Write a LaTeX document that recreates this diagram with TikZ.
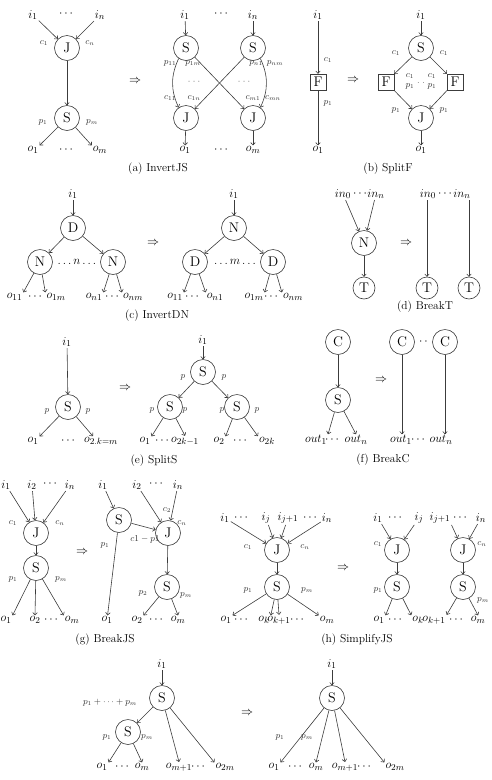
\documentclass[tikz,border=0pt]{standalone}
\usepackage{amsmath,amssymb}
\usepackage{tikz}
\usetikzlibrary{arrows.meta,positioning,calc}
\usepackage{xcolor}
\definecolor{linegray}{RGB}{60,60,60}

\begin{document}
\begin{tikzpicture}[
    x=1pt, y=1pt,
    >={To[length=3pt,width=5pt]},
    op/.style={circle, draw=linegray, line width=0.6pt, minimum size=25pt, inner sep=0pt, font=\fontsize{14}{16}\selectfont},
    fn/.style={rectangle, draw=linegray, line width=0.6pt, minimum size=16pt, inner sep=0pt, font=\fontsize{14}{16}\selectfont},
    lab/.style={font=\fontsize{13}{15}\selectfont, inner sep=1pt},
    sm/.style={font=\fontsize{9}{10}\selectfont, inner sep=0pt, text=black!80},
    faint/.style={font=\fontsize{11}{12}\selectfont, inner sep=0pt, text=black!45},
    capt/.style={font=\fontsize{11.5}{14}\selectfont},
    imp/.style={font=\fontsize{13}{15}\selectfont},
    arr/.style={->, draw=linegray, line width=0.6pt}
]
\useasboundingbox (0,0) rectangle (492,-780);

\node[lab] (ai1) at (33,-15) {$i_1$};
\node[lab] (aid) at (67,-14) {$\cdots$};
\node[lab] (ain) at (100,-15) {$i_n$};
\node[op] (aJ) at (67,-48) {J};
\node[op] (aS) at (67,-118) {S};
\node[lab] (ao1) at (33,-150) {$o_1$};
\node[lab] (aod) at (67,-150) {$\cdots$};
\node[lab] (aom) at (100,-150) {$o_m$};
\node[sm] at (44,-43) {$c_1$};
\node[sm] at (90,-43) {$c_n$};
\node[sm] at (43,-122) {$p_1$};
\node[sm] at (92,-122) {$p_m$};
\draw[arr] (ai1) -- (aJ);
\draw[arr] (ain) -- (aJ);
\draw[arr] (aJ) -- (aS);
\draw[arr] (aS) -- (ao1.north east);
\draw[arr] (aS) -- (aom.north west);
\node[imp] at (135,-81) {$\Rightarrow$};

\node[lab] (ari1) at (185,-15) {$i_1$};
\node[lab] (arid) at (222,-14) {$\cdots$};
\node[lab] (arin) at (253,-15) {$i_n$};
\node[op] (arS1) at (186,-48) {S};
\node[op] (arS2) at (253,-48) {S};
\node[op] (arJ1) at (186,-118) {J};
\node[op] (arJ2) at (253,-118) {J};
\node[lab] (aro1) at (185,-150) {$o_1$};
\node[lab] (arod) at (222,-150) {$\cdots$};
\node[lab] (arom) at (253,-150) {$o_m$};
\draw[arr] (ari1) -- (arS1);
\draw[arr] (arin) -- (arS2);
\draw[arr] (arS1.235) to[out=245, in=115] (arJ1.125);
\draw[arr] (arS2.305) to[out=295, in=65] (arJ2.55);
\draw[arr] (arS1) -- (arJ2);
\draw[arr] (arS2) -- (arJ1);
\draw[arr] (arJ1) -- (aro1);
\draw[arr] (arJ2) -- (arom);
\node[sm] at (170,-63) {$p_{11}$};
\node[sm] at (193,-63) {$p_{1m}$};
\node[sm] at (256,-63) {$p_{n1}$};
\node[sm] at (275,-63) {$p_{nm}$};
\node[faint] at (195,-82) {$\cdots$};
\node[faint] at (245,-82) {$\cdots$};
\node[sm] at (170,-98) {$c_{11}$};
\node[sm] at (194,-98) {$c_{1n}$};
\node[sm] at (253,-98) {$c_{m1}$};
\node[sm] at (273,-98) {$c_{mn}$};
\node[capt] at (158,-169) {(a)~InvertJS};

\node[lab] (bi1) at (318,-15) {$i_1$};
\node[fn] (bF) at (318,-82) {F};
\node[lab] (bo1) at (318,-150) {$o_1$};
\node[sm] at (328,-60) {$c_1$};
\node[sm] at (328,-103) {$p_1$};
\draw[arr] (bi1) -- (bF);
\draw[arr] (bF) -- (bo1);
\node[imp] at (353,-80) {$\Rightarrow$};
\node[lab] (bri1) at (421,-15) {$i_1$};
\node[op] (brS) at (421,-48) {S};
\node[fn] (brF1) at (386,-82) {F};
\node[fn] (brF2) at (455,-82) {F};
\node[op] (brJ) at (421,-118) {J};
\node[lab] (bro1) at (421,-150) {$o_1$};
\draw[arr] (bri1) -- (brS);
\draw[arr] (brS) -- (brF1);
\draw[arr] (brS) -- (brF2);
\draw[arr] (brF1) -- (brJ);
\draw[arr] (brF2) -- (brJ);
\draw[arr] (brJ) -- (bro1);
\node[sm] at (396,-53) {$c_1$};
\node[sm] at (444,-53) {$c_1$};
\node[sm] at (410,-76) {$c_1$};
\node[sm] at (410,-86) {$p_1$};
\node[sm] at (432,-76) {$c_1$};
\node[sm] at (432,-86) {$p_1$};
\node[sm] at (421,-83) {$.\;.$};
\node[sm] at (396,-110) {$p_1$};
\node[sm] at (444,-110) {$p_1$};
\node[capt] at (388,-169) {(b)~SplitF};

\node[lab] (ci1) at (73,-194) {$i_1$};
\node[op] (cD) at (73,-228) {D};
\node[op] (cN1) at (40,-262) {N};
\node[op] (cN2) at (113,-262) {N};
\node[lab] at (77,-262) {$\ldots n \ldots$};
\node[lab] (co11) at (14.5,-297) {$o_{11}$};
\node[lab] at (36,-297) {$\cdots$};
\node[lab] (co1m) at (56,-297) {$o_{1m}$};
\node[lab] (con1) at (94,-297) {$o_{n1}$};
\node[lab] at (113,-297) {$\cdots$};
\node[lab] (conm) at (133,-297) {$o_{nm}$};
\draw[arr] (ci1) -- (cD);
\draw[arr] (cD) -- (cN1);
\draw[arr] (cD) -- (cN2);
\draw[arr] (cN1) -- (co11.north east);
\draw[arr] (cN1) -- (co1m.north west);
\draw[arr] (cN2) -- (con1.north east);
\draw[arr] (cN2) -- (conm.north west);
\node[imp] at (153,-243) {$\Rightarrow$};
\node[lab] (cri1) at (234,-194) {$i_1$};
\node[op] (crN) at (234,-228) {N};
\node[op] (crD1) at (195,-262) {D};
\node[op] (crD2) at (273,-262) {D};
\node[lab] at (235,-262) {$\ldots m \ldots$};
\node[lab] (cro11) at (175,-297) {$o_{11}$};
\node[lab] at (193,-297) {$\cdots$};
\node[lab] (cron1) at (215,-297) {$o_{n1}$};
\node[lab] (cro1m) at (254,-297) {$o_{1m}$};
\node[lab] at (272,-297) {$\cdots$};
\node[lab] (cronm) at (293,-297) {$o_{nm}$};
\draw[arr] (cri1) -- (crN);
\draw[arr] (crN) -- (crD1);
\draw[arr] (crN) -- (crD2);
\draw[arr] (crD1) -- (cro11.north east);
\draw[arr] (crD1) -- (cron1.north west);
\draw[arr] (crD2) -- (cro1m.north east);
\draw[arr] (crD2) -- (cronm.north west);
\node[capt] at (157,-316) {(c)~InvertDN};

\node[lab] (din0) at (343,-194) {$in_0$};
\node[lab] at (361,-194) {$\cdots$};
\node[lab] (dinn) at (376,-194) {$in_n$};
\node[op] (dN) at (364,-243) {N};
\node[op, minimum size=22pt] (dT) at (364,-288) {T};
\draw[arr] (din0) -- (dN);
\draw[arr] (dinn) -- (dN);
\draw[arr] (dN) -- (dT);
\node[imp] at (406,-243) {$\Rightarrow$};
\node[lab] (drin0) at (428,-194) {$in_0$};
\node[lab] at (446,-194) {$\cdots$};
\node[lab] (drinn) at (462,-194) {$in_n$};
\node[op, minimum size=22pt] (drT1) at (427,-288) {T};
\node[op, minimum size=22pt] (drT2) at (469,-288) {T};
\draw[arr] (drin0.south -| drT1) -- (drT1);
\draw[arr] (drinn.south -| drT2) -- (drT2);
\node[capt] at (425,-307) {(d)~BreakT};

\node[lab] (ei1) at (67,-342) {$i_1$};
\node[op] (eS) at (68,-407) {S};
\node[sm] at (47,-411) {$p$};
\node[sm] at (88,-411) {$p$};
\node[lab] (eo1) at (33,-441) {$o_1$};
\node[lab] at (69,-441) {$\cdots$};
\node[lab] (eo2) at (101,-441) {$o_{2.k=m}$};
\draw[arr] (ei1) -- (eS);
\draw[arr] (eS) -- (eo1.north east);
\draw[arr] (eS) -- ([xshift=10pt]eo2.north west);
\node[imp] at (125,-388) {$\Rightarrow$};
\node[lab] (eri1) at (203,-340) {$i_1$};
\node[op] (erS) at (203,-372) {S};
\node[op] (erS1) at (170,-407) {S};
\node[op] (erS2) at (237,-407) {S};
\node[sm] at (183,-377) {$p$};
\node[sm] at (224,-377) {$p$};
\node[sm] at (152,-410) {$p$};
\node[sm] at (185,-410) {$p$};
\node[sm] at (222,-410) {$p$};
\node[sm] at (257,-410) {$p$};
\node[lab] (ero1) at (145,-441) {$o_1$};
\node[lab] at (163,-441) {$\cdots$};
\node[lab] (ero2) at (185,-441) {$o_{2k-1}$};
\node[lab] (ero3) at (219,-441) {$o_2$};
\node[lab] at (241,-441) {$\cdots$};
\node[lab] (ero4) at (267,-441) {$o_{2k}$};
\draw[arr] (eri1) -- (erS);
\draw[arr] (erS) -- (erS1);
\draw[arr] (erS) -- (erS2);
\draw[arr] (erS1) -- (ero1.north east);
\draw[arr] (erS1) -- (ero2.north);
\draw[arr] (erS2) -- (ero3.north east);
\draw[arr] (erS2) -- (ero4.north west);
\node[capt] at (154,-461) {(e)~SplitS};

\node[op] (fC) at (338,-342) {C};
\node[op] (fS) at (338,-400) {S};
\node[lab] (fo1) at (316,-440) {$out_1$};
\node[lab] at (333,-440) {$\cdots$};
\node[lab] (fon) at (356,-440) {$out_n$};
\draw[arr] (fC) -- (fS);
\draw[arr] (fS) -- (fo1.north east);
\draw[arr] (fS) -- (fon.north);
\node[imp] at (381,-380) {$\Rightarrow$};
\node[op] (frC1) at (402,-342) {C};
\node[op] (frC2) at (445,-342) {C};
\node[lab] at (423.5,-342) {$\cdot\,\cdot$};
\node[lab] (fro1) at (401,-440) {$out_1$};
\node[lab] at (419,-440) {$\cdots$};
\node[lab] (fron) at (441,-440) {$out_n$};
\draw[arr] (frC1) -- (frC1 |- fro1.north);
\draw[arr] (frC2) -- (frC2 |- fron.north);
\node[capt] at (383,-460) {(f)~BreakC};

\node[lab] (gi1) at (6,-485) {$i_1$};
\node[lab] (gi2) at (32,-485) {$i_2$};
\node[lab] at (51,-484) {$\cdots$};
\node[lab] (gin) at (70,-485) {$i_n$};
\node[op] (gJ) at (36,-533) {J};
\node[op] (gS) at (36,-568) {S};
\node[sm] at (13,-523) {$c_1$};
\node[sm] at (60,-523) {$c_n$};
\node[sm] at (13,-579) {$p_1$};
\node[sm] at (61,-579) {$p_m$};
\node[lab] (go1) at (6,-620) {$o_1$};
\node[lab] (go2) at (35,-620) {$o_2$};
\node[lab] at (52,-620) {$\cdots$};
\node[lab] (gom) at (72,-620) {$o_m$};
\draw[arr] (gi1) -- (gJ);
\draw[arr] (gi2) -- (gJ);
\draw[arr] (gin) -- (gJ);
\draw[arr] (gJ) -- (gS);
\draw[arr] (gS) -- (go1.north east);
\draw[arr] (gS) -- (go2.north);
\draw[arr] (gS) -- (gom.north west);
\node[imp] at (82,-552) {$\Rightarrow$};
\node[lab] (gri1) at (103,-485) {$i_1$};
\node[lab] (gri2) at (137,-485) {$i_2$};
\node[lab] at (157,-484) {$\cdots$};
\node[lab] (grin) at (178,-485) {$i_n$};
\node[op] (grS) at (119,-520) {S};
\node[op] (grJ) at (168,-533) {J};
\node[op] (grS2) at (167,-587) {S};
\node[sm] at (167,-510) {$c_2$};
\node[sm] at (182,-523) {$c_n$};
\node[sm] at (145,-539) {$c1-p1$};
\node[sm] at (105,-545) {$p_1$};
\node[sm] at (143,-593) {$p_2$};
\node[sm] at (186,-595) {$p_m$};
\node[lab] (gro1) at (107,-620) {$o_1$};
\node[lab] (gro2) at (137,-620) {$o_2$};
\node[lab] at (157,-620) {$\cdots$};
\node[lab] (grom) at (178,-620) {$o_m$};
\draw[arr] (gri1) -- (grS);
\draw[arr] (grS) -- (grJ);
\draw[arr] (gri2) -- (grJ);
\draw[arr] (grin) -- (grJ);
\draw[arr] (grJ) -- (grS2);
\draw[arr] (grS) -- (gro1);
\draw[arr] (grS2) -- (gro2.north east);
\draw[arr] (grS2) -- (grom.north);
\node[capt] at (105,-640) {(g)~BreakJS};

\node[lab] (hi1) at (225,-518) {$i_1$};
\node[lab] at (242,-518) {$\cdots$};
\node[lab] (hij) at (266,-518) {$i_j$};
\node[lab] (hij1) at (288,-518) {$i_{j+1}$};
\node[lab] at (311,-518) {$\cdots$};
\node[lab] (hin) at (327,-518) {$i_n$};
\node[op] (hJ) at (277,-550) {J};
\node[op] (hS) at (277,-587) {S};
\node[sm] at (248,-547) {$c_1$};
\node[sm] at (305,-547) {$c_n$};
\node[sm] at (248,-590) {$p_1$};
\node[sm] at (307,-590) {$p_m$};
\node[lab] (ho1) at (226,-620) {$o_1$};
\node[lab] at (242,-620) {$\cdots$};
\node[lab] (hok) at (264,-620) {$o_k$};
\node[lab] (hok1) at (279,-620) {$o_{k+1}$};
\node[lab] at (298,-620) {$\cdots$};
\node[lab] (hom) at (327,-620) {$o_m$};
\draw[arr] (hi1) -- (hJ);
\draw[arr] (hij) -- (hJ);
\draw[arr] (hij1) -- (hJ);
\draw[arr] (hin) -- (hJ);
\draw[arr] (hJ) -- (hS);
\draw[arr] (hS) -- (ho1.north east);
\draw[arr] (hS) -- (hok.north east);
\draw[arr] (hS) -- (hok1.north);
\draw[arr] (hS) -- (hom.north west);
\node[imp] at (343,-568) {$\Rightarrow$};
\node[lab] (hri1) at (378,-518) {$i_1$};
\node[lab] at (396,-518) {$\cdots$};
\node[lab] (hrij) at (419,-518) {$i_j$};
\node[lab] (hrij1) at (440,-518) {$i_{j+1}$};
\node[lab] at (461,-518) {$\cdots$};
\node[lab] (hrin) at (481,-518) {$i_n$};
\node[op] (hrJ1) at (397,-550) {J};
\node[op] (hrJ2) at (463,-550) {J};
\node[op] (hrS1) at (397,-587) {S};
\node[op] (hrS2) at (463,-587) {S};
\node[sm] at (378,-544) {$c_1$};
\node[sm] at (482,-544) {$c_n$};
\node[sm] at (378,-590) {$p_1$};
\node[sm] at (483,-600) {$p_m$};
\node[lab] (hro1) at (379,-620) {$o_1$};
\node[lab] at (396,-620) {$\cdots$};
\node[lab] (hrok) at (418,-620) {$o_k$};
\node[lab] (hrok1) at (434,-620) {$o_{k+1}$};
\node[lab] at (457,-620) {$\cdots$};
\node[lab] (hrom) at (478,-620) {$o_m$};
\draw[arr] (hri1) -- (hrJ1);
\draw[arr] (hrij) -- (hrJ1);
\draw[arr] (hrij1.south east) -- (hrJ2);
\draw[arr] (hrin) -- (hrJ2);
\draw[arr] (hrJ1) -- (hrS1);
\draw[arr] (hrJ2) -- (hrS2);
\draw[arr] (hrS1) -- (hro1.north east);
\draw[arr] (hrS1) -- (hrok.north west);
\draw[arr] (hrS2) -- (hrok1.north east);
\draw[arr] (hrS2) -- (hrom.north);
\node[capt] at (357,-640) {(h)~SimplifyJS};

\node[lab] (ii1) at (162,-664) {$i_1$};
\node[op] (iS) at (162,-698) {S};
\node[op] (iS2) at (128,-732) {S};
\node[sm] at (110,-703) {$p_1+\cdots+p_m$};
\node[sm] at (107,-737) {$p_1$};
\node[sm] at (147,-737) {$p_m$};
\node[lab] (io1) at (102,-767) {$o_1$};
\node[lab] at (123,-767) {$\cdots$};
\node[lab] (iom) at (142,-767) {$o_m$};
\node[lab] (iom1) at (179,-767) {$o_{m+1}$};
\node[lab] at (199,-767) {$\cdots$};
\node[lab] (io2m) at (225,-767) {$o_{2m}$};
\draw[arr] (ii1) -- (iS);
\draw[arr] (iS) -- (iS2);
\draw[arr] (iS) -- (iom1.north);
\draw[arr] (iS) -- (io2m.north west);
\draw[arr] (iS2) -- (io1.north east);
\draw[arr] (iS2) -- (iom.north);
\node[imp] at (247,-713) {$\Rightarrow$};
\node[lab] (iri1) at (332,-664) {$i_1$};
\node[op] (irS) at (332,-698) {S};
\node[sm] at (280,-737) {$p_1$};
\node[sm] at (307,-737) {$p_m$};
\node[lab] (iro1) at (274,-767) {$o_1$};
\node[lab] at (296,-767) {$\cdots$};
\node[lab] (irom) at (316,-767) {$o_m$};
\node[lab] (irom1) at (345,-767) {$o_{m+1}$};
\node[lab] at (365,-767) {$\cdots$};
\node[lab] (iro2m) at (395,-767) {$o_{2m}$};
\draw[arr] (iri1) -- (irS);
\draw[arr] (irS) -- (iro1.north east);
\draw[arr] (irS) -- (irom.north);
\draw[arr] (irS) -- (irom1.north);
\draw[arr] (irS) -- (iro2m.north west);
\end{tikzpicture}
\end{document}
